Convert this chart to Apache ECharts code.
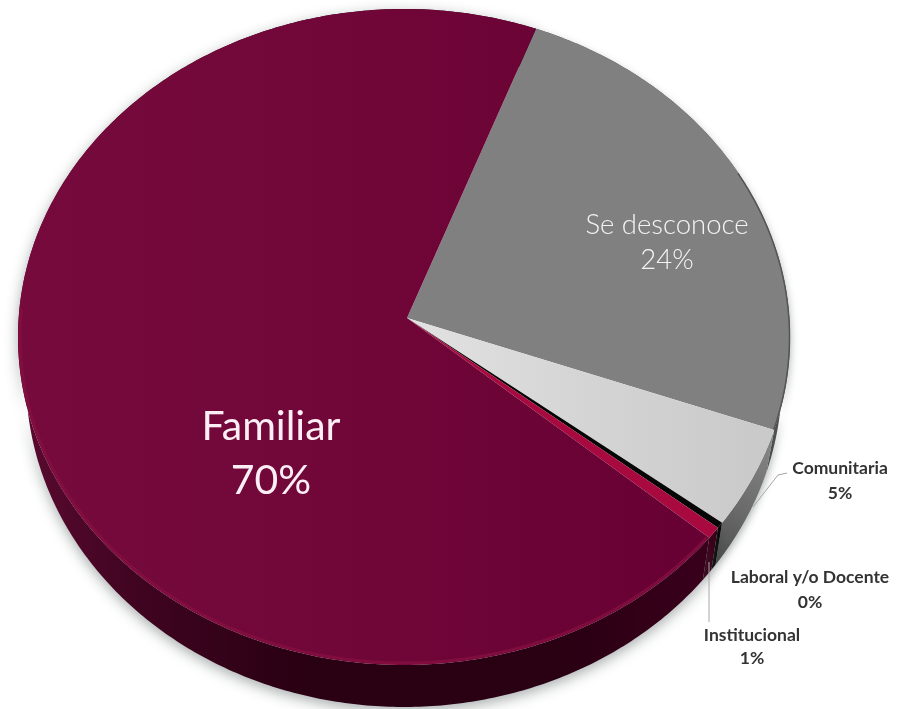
<!DOCTYPE html>
<html>
<head>
<meta charset="utf-8">
<style>html,body{margin:0;padding:0;background:#fff}#c{width:902px;height:709px}</style>
<script src="https://cdn.jsdelivr.net/npm/echarts@6/dist/echarts.min.js"></script>
</head>
<body>
<div id="c"></div>
<script>
// Data, read clockwise from the Familiar / Se desconoce boundary
var categories = ['Se desconoce', 'Comunitaria', 'Laboral y/o Docente', 'Institucional', 'Familiar'];
var values = [24, 5, 0.3, 0.6, 70];
var startAngle = 70;

// Styles per category
var topColors = ['#808080', '#d3d3d3', '#060606', '#a80a40', '#6f0638'];
var labelStyles = [
  {x: 667, y: 243, size: 27.5, weight: 300, lh: 35, color: '#f4f4f4'},
  {x: 840, y: 481, size: 17.5, weight: 700, lh: 25, color: '#333'},
  {x: 810, y: 590, size: 17.5, weight: 700, lh: 25, color: '#333'},
  {x: 752, y: 647, size: 17.5, weight: 700, lh: 23, color: '#333'},
  {x: 271, y: 454, size: 41, weight: 400, lh: 54, color: '#fbeef5'}
];

// Tilted-disc geometry
var apex = {x: 407, y: 318};
var topE = {cx: 404, cy: 337, a: 386, b: 328};
var botE = {cx: 404, cy: 379, a: 378, b: 328};
var total = values.reduce(function (s, v) { return s + v; }, 0);

function spanOf(i) {
  var before = 0;
  for (var k = 0; k < i; k++) before += values[k];
  return [startAngle - before / total * 360, startAngle - (before + values[i]) / total * 360];
}
function pt(e, deg) {
  var t = deg * Math.PI / 180;
  return [e.cx + e.a * Math.cos(t), e.cy - e.b * Math.sin(t)];
}
function arc(e, a0, a1) {
  var n = Math.max(2, Math.ceil(Math.abs(a1 - a0) * 1.5)), out = [];
  for (var i = 0; i <= n; i++) out.push(pt(e, a0 + (a1 - a0) * i / n));
  return out;
}
function grad(x0, x1, y0, y1, stops) {
  return {type: 'linear', x: x0, y: y0, x2: x1, y2: y1, global: false,
    colorStops: stops.map(function (s) { return {offset: s[0], color: s[1]}; })};
}
var wallFills = [
  '#4f4f4f',
  grad(1, 0, 0, 1, [[0, '#8a8a8a'], [0.6, '#6a6a6a'], [1, '#4a4a4a']]),
  '#060606',
  '#3a0018',
  grad(0, 1, 0, 0, [[0, '#5c0a30'], [0.15, '#420522'], [0.4, '#2a0013'], [0.8, '#2a0013'], [1, '#3a001c']])
];

function renderWall(params, api) {
  var i = api.value(2);
  var s = spanOf(i);
  var a = arc(topE, s[0], s[1]);
  var b = arc(botE, s[0], s[1]).reverse();
  return {
    type: 'polygon',
    shape: {points: a.concat(b)},
    style: {fill: wallFills[i], shadowBlur: i === 4 ? 14 : 8, shadowColor: 'rgba(60,70,70,0.45)', shadowOffsetY: 4}
  };
}
function renderTop(params, api) {
  var i = api.value(2);
  var s = spanOf(i);
  var pts = [[apex.x, apex.y]].concat(arc(topE, s[0], s[1]));
  var fill = topColors[i];
  if (i === 4) fill = grad(0, 1, 0, 0, [[0, '#760a3c'], [0.55, '#700638'], [1, '#670033']]);
  if (i === 1) fill = grad(1, 0, 0, 0, [[0, '#c9c9c9'], [0.5, '#d4d4d4'], [1, '#e2e2e2']]);
  var children = [{type: 'polygon', shape: {points: pts}, style: {fill: fill}}];
  var inner = {cx: topE.cx, cy: topE.cy, a: topE.a - 2, b: topE.b - 2};
  if (i === 4) {
    children.push({
      type: 'polyline',
      shape: {points: arc(inner, 175, 322)},
      style: {stroke: '#861040', lineWidth: 3, fill: null, opacity: 0.75}
    });
  }
  if (i === 0) {
    children.push({
      type: 'polyline',
      shape: {points: arc({cx: topE.cx, cy: topE.cy, a: topE.a - 0.5, b: topE.b - 0.5}, 30, s[1])},
      style: {stroke: '#4a4a4a', lineWidth: 1.5, fill: null, opacity: 0.8}
    });
  }
  return {type: 'group', children: children};
}
function renderLabel(params, api) {
  var i = api.value(2);
  var st = labelStyles[i];
  return {
    type: 'text',
    style: {
      x: st.x, y: st.y,
      text: categories[i] + '\n' + Math.round(values[i]) + '%',
      font: st.weight + ' ' + st.size + 'px Lato, "Open Sans", sans-serif',
      lineHeight: st.lh,
      fill: st.color,
      align: 'center',
      verticalAlign: 'middle'
    }
  };
}
var rows = categories.map(function (c, i) { return [c, values[i], i]; });

var chart = echarts.init(document.getElementById('c'), null, {renderer: 'canvas'});
chart.setOption({
  animation: false,
  backgroundColor: '#ffffff',
  series: [
    {type: 'custom', coordinateSystem: 'none', name: 'wall', z: 1, data: rows, renderItem: renderWall, silent: true},
    {type: 'custom', coordinateSystem: 'none', name: 'top', z: 2, data: rows, renderItem: renderTop, silent: true},
    {type: 'custom', coordinateSystem: 'none', name: 'labels', z: 3, data: rows, renderItem: renderLabel, silent: true}
  ],
  graphic: [
    {type: 'polyline', z: 4, shape: {points: [[753, 507], [778, 475], [787, 473]]}, style: {stroke: '#a6a6a6', lineWidth: 1, fill: null}},
    {type: 'line', z: 4, shape: {x1: 709, y1: 562, x2: 709, y2: 622}, style: {stroke: '#a6a6a6', lineWidth: 1}}
  ]
});
</script>
</body>
</html>
